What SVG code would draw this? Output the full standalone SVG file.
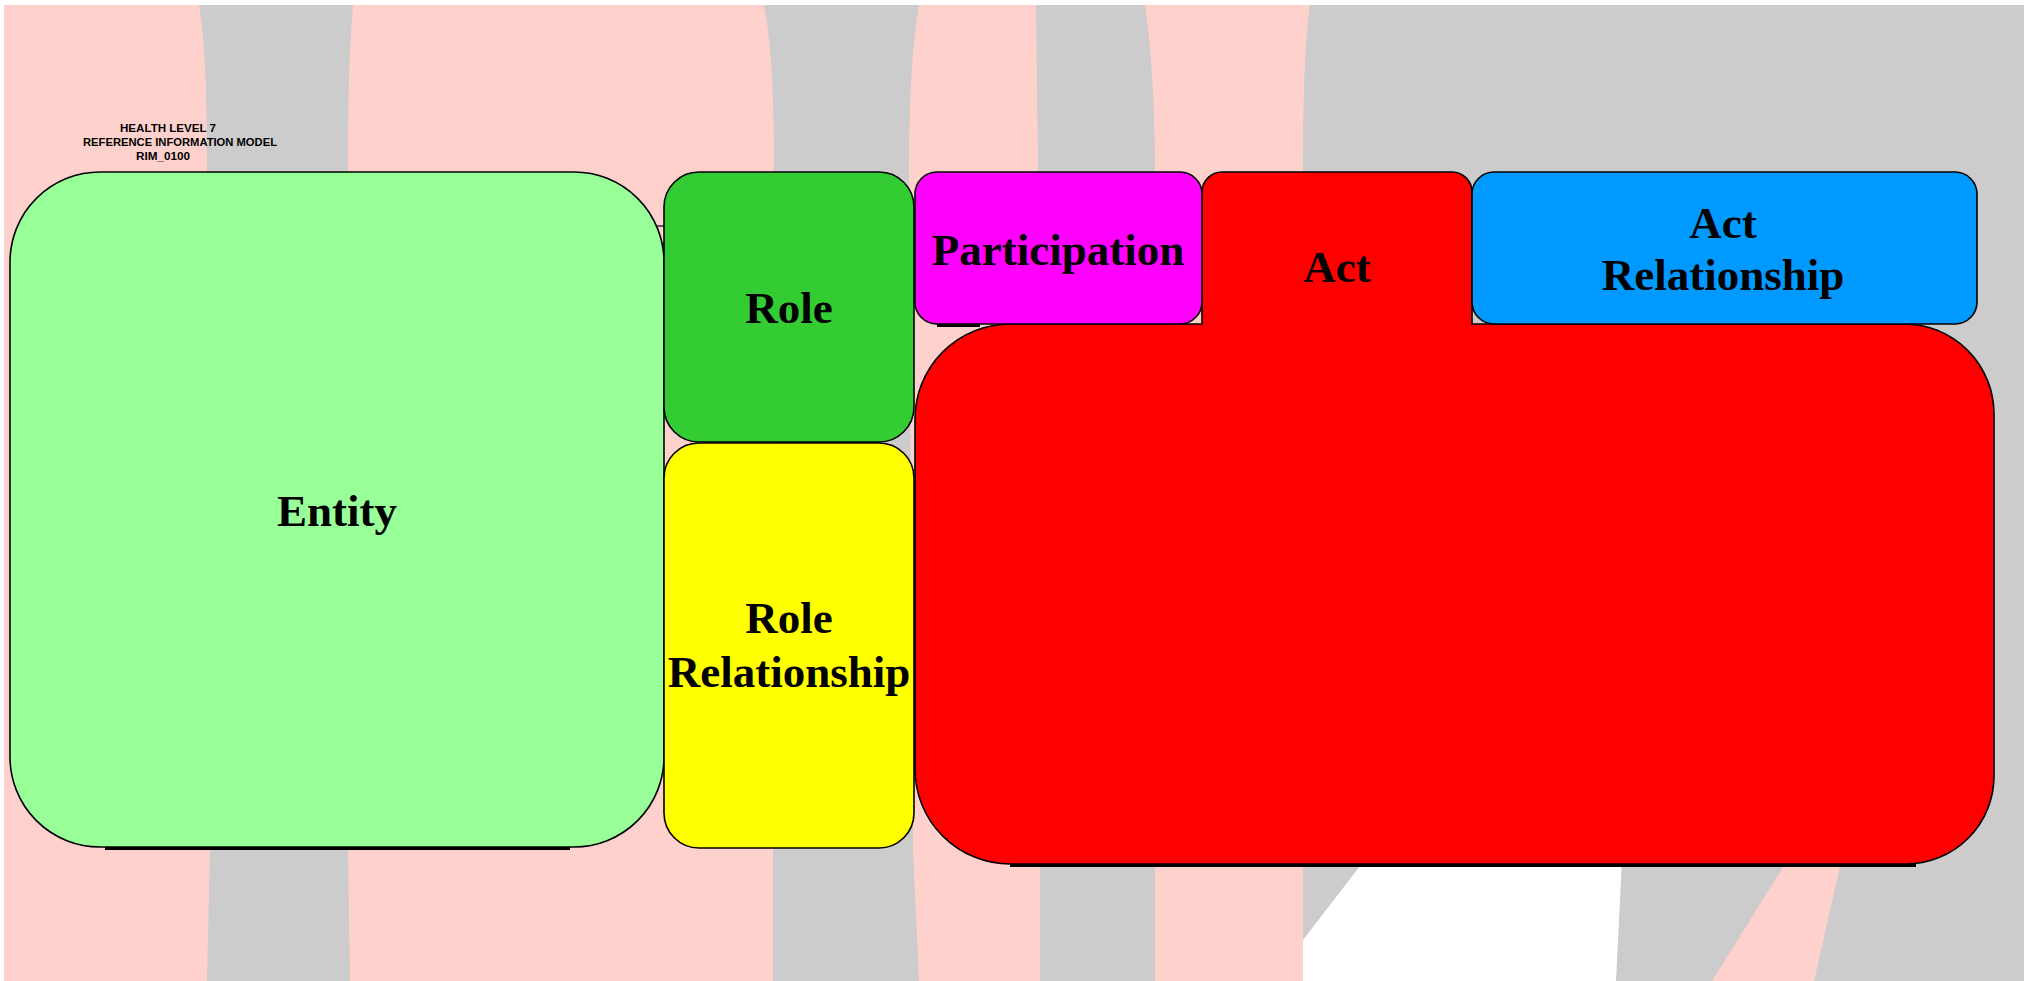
<svg xmlns="http://www.w3.org/2000/svg" width="2033" height="981" viewBox="0 0 2033 981">
<style>
.box{stroke:#000;stroke-width:1.6}
.lbl{font-family:"Liberation Serif","Times New Roman",serif;font-weight:bold;font-size:45px;fill:#000;text-anchor:middle}
.hdr{font-family:"Liberation Sans",Arial,sans-serif;font-weight:bold;font-size:11px;fill:#000;text-anchor:middle}
.pink{fill:#ffd1cc}
.shadow{stroke:#000;stroke-width:4;fill:none}
</style>
<rect x="0" y="0" width="2033" height="981" fill="#ffffff"/>
<g id="background">
<rect x="4" y="5" width="2020" height="976" fill="#cccccc"/>
<path class="pink" d="M4,5 L199,5 C205,40 207,90 207,170 L210,850 L207,981 L4,981 Z"/>
<path class="pink" d="M353,5 L764,5 C771,40 774,90 774,172 L773,850 L773,981 L350,981 L348,850 L348,170 C348,90 350,40 353,5 Z"/>
<path class="pink" d="M919,5 L1036,5 L1038,172 L1040,981 L919,981 L913,850 L909,172 C909,90 913,40 919,5 Z"/>
<path class="pink" d="M1145,5 L1310,5 C1305,40 1303,90 1303,172 L1303,981 L1155,981 L1155,172 C1155,90 1150,40 1145,5 Z"/>
<path fill="#ffffff" d="M1380,840 L1623,840 L1616,981 L1303,981 L1303,940 Z"/>
<path class="pink" d="M1800,840 L1846,840 L1814,981 L1712,981 Z"/>
</g>
<g id="header">
<text class="hdr" x="168" y="132" textLength="96" lengthAdjust="spacingAndGlyphs">HEALTH LEVEL 7</text>
<text class="hdr" x="180" y="146" textLength="194" lengthAdjust="spacingAndGlyphs">REFERENCE INFORMATION MODEL</text>
<text class="hdr" x="163" y="160" textLength="54" lengthAdjust="spacingAndGlyphs">RIM_0100</text>
</g>
<g id="connectors">
<line x1="646" y1="226" x2="664" y2="226" stroke="#000" stroke-width="1.2"/>
<line x1="654" y1="244" x2="664" y2="244" stroke="#000" stroke-width="1.2"/>
</g>
<g id="entity">
<line class="shadow" x1="105" y1="848" x2="570" y2="848"/>
<rect class="box" x="10" y="172" width="654" height="675" rx="90" ry="90" fill="#99ff99"/>
<text class="lbl" x="337" y="526">Entity</text>
</g>
<g id="act">
<line class="shadow" x1="1010" y1="865" x2="1916" y2="865"/>
<path class="box" fill="#ff0000" d="M915,419 A95,95 0 0 1 1010,324 L1202,324 L1202,192 A20,20 0 0 1 1222,172 L1452,172 A20,20 0 0 1 1472,192 L1472,324 L1904,324 A90,90 0 0 1 1994,414 L1994,776 A88,88 0 0 1 1906,864 L1010,864 A95,95 0 0 1 915,769 Z"/>
<text class="lbl" x="1337" y="282">Act</text>
</g>
<g id="role">
<rect class="box" x="664" y="172" width="250" height="270" rx="35" ry="35" fill="#33cc33"/>
<text class="lbl" x="789" y="323">Role</text>
</g>
<g id="role-relationship">
<rect class="box" x="664" y="443" width="250" height="405" rx="35" ry="35" fill="#ffff00"/>
<text class="lbl" x="789" y="633">Role</text>
<text class="lbl" x="789" y="687">Relationship</text>
</g>
<g id="participation">
<line class="shadow" x1="937" y1="325" x2="980" y2="325"/>
<rect class="box" x="915" y="172" width="287" height="152" rx="22" ry="22" fill="#ff00ff"/>
<text class="lbl" x="1058" y="265">Participation</text>
</g>
<g id="act-relationship">
<rect class="box" x="1472" y="172" width="505" height="152" rx="22" ry="22" fill="#0099ff"/>
<text class="lbl" x="1723" y="238">Act</text>
<text class="lbl" x="1723" y="290">Relationship</text>
</g>
</svg>
